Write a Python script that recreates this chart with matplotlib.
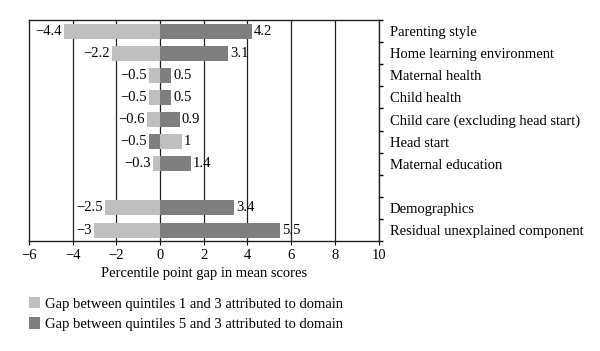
import matplotlib.pyplot as plt
import numpy as np

plt.rcParams['font.family'] = ['Liberation Serif', 'DejaVu Serif']

categories = ['Parenting style', 'Home learning environment', 'Maternal health',
              'Child health', 'Child care (excluding head start)', 'Head start',
              'Maternal education', '', 'Demographics',
              'Residual unexplained component']
gap_1_3 = [-4.4, -2.2, -0.5, -0.5, -0.6, 1, -0.3, np.nan, -2.5, -3]
gap_5_3 = [4.2, 3.1, 0.5, 0.5, 0.9, -0.5, 1.4, np.nan, 3.4, 5.5]

light = '#bfbfbf'
dark = '#7f7f7f'

fig = plt.figure(figsize=(6, 3.51), dpi=100)
ax = fig.add_axes([0.048, 0.313, 0.583, 0.63])

y = np.arange(len(categories))
ax.barh(y, gap_1_3, height=0.68, color=light, zorder=3, label='Gap between quintiles 1 and 3 attributed to domain')
ax.barh(y, gap_5_3, height=0.68, color=dark, zorder=3, label='Gap between quintiles 5 and 3 attributed to domain')


def fmt(v):
    s = ('%g' % v).replace('-', '\u2212')
    return s


for yi, a, b in zip(y, gap_1_3, gap_5_3):
    for v in (a, b):
        if np.isnan(v):
            continue
        if v < 0:
            ax.text(v - 0.1, yi, fmt(v), ha='right', va='center', fontsize=10.5, zorder=4)
        else:
            ax.text(v + 0.1, yi, fmt(v), ha='left', va='center', fontsize=10.5, zorder=4)

ax.set_xlim(-6, 10)
ax.set_ylim(len(categories) - 0.5, -0.5)
ax.set_xticks(np.arange(-6, 11, 2))
ax.set_xticklabels([fmt(v) for v in np.arange(-6, 11, 2)], fontsize=10.5)
for xv in np.arange(-4, 11, 2):
    ax.axvline(xv, color='#222222', linewidth=0.9, zorder=1)

ax.yaxis.tick_right()
ax.set_yticks(y)
ax.set_yticklabels(categories, fontsize=10.5)
ax.set_yticks(np.arange(-0.5, len(categories), 1), minor=True)
ax.tick_params(axis='y', which='major', length=0, pad=8)
ax.tick_params(axis='y', which='minor', length=3, width=1, direction='out')
ax.tick_params(axis='x', length=3, direction='out', pad=3)
for s in ax.spines.values():
    s.set_linewidth(1)
    s.set_color('#222222')

ax.set_xlabel('Percentile point gap in mean scores', fontsize=10.5, labelpad=3)

fig.legend(loc='upper left', bbox_to_anchor=(0.038, 0.17), frameon=False,
           fontsize=10.5, handlelength=0.8, handleheight=0.8, handletextpad=0.3,
           labelspacing=0.45, borderaxespad=0)

fig.savefig('out.png', dpi=100)
